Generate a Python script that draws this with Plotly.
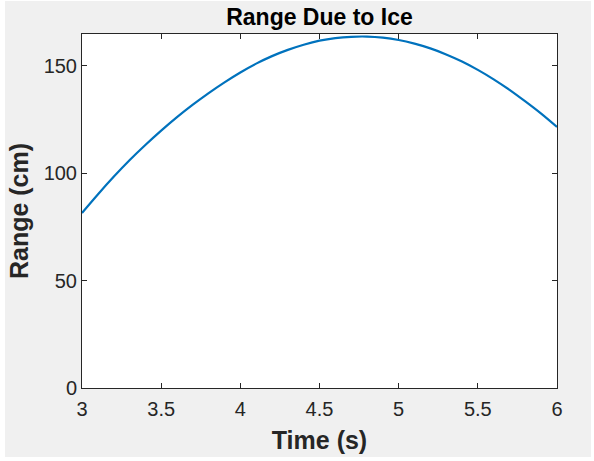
import plotly.graph_objects as go

# Data
time_s = [3.0, 3.1, 3.2, 3.3, 3.4, 3.5, 3.6, 3.7, 3.8, 3.9,
          4.0, 4.1, 4.2, 4.3, 4.4, 4.5, 4.6, 4.7, 4.8, 4.9,
          5.0, 5.1, 5.2, 5.3, 5.4, 5.5, 5.6, 5.7, 5.8, 5.9, 6.0]
range_cm = [81.5, 90.1, 98.3, 106.0, 113.1, 119.8, 126.1, 131.9, 137.3, 142.3,
            146.9, 151.0, 154.5, 157.4, 159.8, 161.7, 162.9, 163.5, 163.6, 163.1,
            162.0, 160.3, 158.1, 155.3, 152.0, 148.1, 143.7, 138.8, 133.4, 127.7, 121.5]

x_ticks = [3, 3.5, 4, 4.5, 5, 5.5, 6]
x_tick_labels = ["3", "3.5", "4", "4.5", "5", "5.5", "6"]
y_ticks = [0, 50, 100, 150]
y_tick_labels = ["0", "50", "100", "150"]

FONT = "Liberation Sans, Arial, Helvetica, sans-serif"
AX = "#262626"

fig = go.Figure()
fig.add_trace(go.Scatter(
    x=time_s, y=range_cm, mode="lines",
    line=dict(color="#0072BD", width=2.2, shape="spline", smoothing=0.8),
    showlegend=False, hoverinfo="skip",
))

L, R, T, B = 82, 37, 34, 73
W, H = 594, 461
pw, ph = W - L - R, H - T - B

axis_common = dict(
    showgrid=False, zeroline=False, showline=True, linecolor=AX, linewidth=1,
    mirror="ticks", ticks="inside", ticklen=5, tickwidth=1, tickcolor=AX,
    tickfont=dict(family=FONT, size=20, color=AX),
)

fig.update_layout(
    width=W, height=H,
    margin=dict(l=L, r=R, t=T, b=B, pad=0),
    paper_bgcolor="white",
    plot_bgcolor="white",
    title=dict(text="<b>Range Due to Ice</b>", x=(L + pw / 2) / W, xanchor="center",
               y=1 - 17 / H, yanchor="middle",
               font=dict(family=FONT, size=23, color="#000000")),
    xaxis=dict(range=[3, 6], tickvals=x_ticks, ticktext=x_tick_labels,
               ticklabelstandoff=3,
               title=dict(text="<b>Time (s)</b>", font=dict(family=FONT, size=25, color=AX), standoff=12),
               **axis_common),
    yaxis=dict(range=[0, 164.8], tickvals=y_ticks, ticktext=y_tick_labels,
               title=dict(text="<b>Range (cm)</b>", font=dict(family=FONT, size=25, color=AX), standoff=7),
               **axis_common),
    shapes=[
        dict(type="rect", xref="paper", yref="paper", layer="below",
             x0=(5 - L) / pw, x1=(591 - L) / pw,
             y0=(H - B - 457) / ph, y1=(H - B - 1) / ph,
             fillcolor="#f0f0f0", line=dict(width=0)),
        dict(type="rect", xref="paper", yref="paper", layer="below",
             x0=0, x1=1, y0=0, y1=1, fillcolor="white", line=dict(width=0)),
    ],
)

fig.write_html("out.html", config={"displayModeBar": False},
               post_script="document.body.style.margin='0';")
